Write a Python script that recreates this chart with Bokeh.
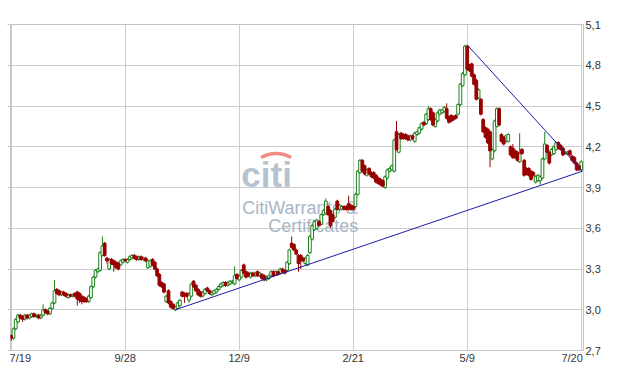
import numpy as np
from bokeh.plotting import figure
from bokeh.models import ColumnDataSource, Range1d, FixedTicker, CustomJSTickFormatter, LinearAxis
from bokeh.core.properties import value
from bokeh.embed import file_html
from bokeh.resources import INLINE

# ---- data (daily candles, 7/19 .. 7/20) ----
open_ = [
    2.81, 2.79, 2.86, 2.91, 2.96, 2.95, 2.93, 2.96, 2.94, 2.95,
    2.97, 2.95, 2.96, 2.94, 2.96, 3.00, 2.99, 2.97, 3.01, 3.05,
    3.15, 3.14, 3.11, 3.13, 3.12, 3.09, 3.11, 3.10, 3.12, 3.13,
    3.12, 3.10, 3.09, 3.08, 3.06, 3.09, 3.17, 3.24, 3.28, 3.29,
    3.40, 3.49, 3.38, 3.30, 3.37, 3.36, 3.35, 3.34, 3.33, 3.35,
    3.37, 3.35, 3.37, 3.38, 3.40, 3.39, 3.37, 3.39, 3.37, 3.38,
    3.31, 3.32, 3.37, 3.35, 3.30, 3.26, 3.20, 3.19, 3.06, 3.14,
    3.06, 3.04, 3.00, 3.01, 3.03, 3.13, 3.12, 3.12, 3.07, 3.10,
    3.21, 3.18, 3.15, 3.13, 3.10, 3.12, 3.16, 3.14, 3.11, 3.12,
    3.13, 3.15, 3.17, 3.18, 3.20, 3.18, 3.19, 3.20, 3.19, 3.26,
    3.22, 3.24, 3.33, 3.28, 3.27, 3.24, 3.27, 3.25, 3.28, 3.25,
    3.26, 3.25, 3.22, 3.23, 3.25, 3.28, 3.26, 3.28, 3.27, 3.30,
    3.29, 3.29, 3.34, 3.49, 3.48, 3.44, 3.40, 3.40, 3.38, 3.34,
    3.33, 3.42, 3.52, 3.59, 3.60, 3.65, 3.63, 3.70, 3.71, 3.76,
    3.73, 3.70, 3.68, 3.80, 3.74, 3.74, 3.76, 3.76, 3.78, 3.77,
    3.76, 3.76, 3.85, 4.01, 4.10, 4.06, 3.99, 4.04, 4.01, 4.01,
    3.99, 3.97, 3.96, 3.95, 3.90, 3.97, 4.02, 4.03, 4.02, 4.31,
    4.16, 4.30, 4.29, 4.29, 4.28, 4.25, 4.28, 4.24, 4.29, 4.30,
    4.33, 4.38, 4.37, 4.40, 4.48, 4.45, 4.35, 4.39, 4.44, 4.45,
    4.46, 4.48, 4.42, 4.43, 4.42, 4.43, 4.44, 4.51, 4.65, 4.73,
    4.94, 4.80, 4.81, 4.73, 4.69, 4.56, 4.55, 4.40, 4.34, 4.33,
    4.31, 4.11, 4.17, 4.35, 4.48, 4.29, 4.27, 4.24, 4.24, 4.20,
    4.19, 4.17, 4.16, 4.09, 4.18, 4.10, 4.04, 4.04, 4.02, 4.01,
    3.94, 3.95, 3.95, 3.97, 4.11, 4.21, 4.16, 4.14, 4.15, 4.18,
    4.23, 4.21, 4.19, 4.15, 4.15, 4.17, 4.13, 4.12, 4.08, 4.06,
    4.03,
]
high = [
    2.82, 2.87, 2.94, 2.97, 2.97, 2.96, 2.97, 2.97, 2.97, 2.98,
    2.98, 2.97, 2.97, 2.97, 3.04, 3.01, 3.00, 3.02, 3.06, 3.22,
    3.16, 3.15, 3.14, 3.14, 3.13, 3.12, 3.12, 3.12, 3.13, 3.14,
    3.13, 3.11, 3.10, 3.09, 3.11, 3.18, 3.25, 3.30, 3.31, 3.43,
    3.54, 3.50, 3.39, 3.38, 3.38, 3.37, 3.36, 3.35, 3.37, 3.38,
    3.38, 3.38, 3.40, 3.41, 3.41, 3.40, 3.40, 3.40, 3.39, 3.39,
    3.37, 3.37, 3.38, 3.36, 3.31, 3.27, 3.21, 3.20, 3.11, 3.15,
    3.07, 3.05, 3.03, 3.06, 3.08, 3.14, 3.13, 3.13, 3.13, 3.20,
    3.22, 3.19, 3.16, 3.14, 3.14, 3.16, 3.17, 3.15, 3.14, 3.15,
    3.16, 3.18, 3.20, 3.21, 3.21, 3.21, 3.22, 3.22, 3.32, 3.27,
    3.26, 3.30, 3.34, 3.29, 3.28, 3.28, 3.28, 3.28, 3.29, 3.28,
    3.27, 3.26, 3.25, 3.26, 3.29, 3.29, 3.29, 3.29, 3.31, 3.31,
    3.30, 3.36, 3.45, 3.54, 3.49, 3.45, 3.41, 3.41, 3.39, 3.39,
    3.41, 3.55, 3.63, 3.66, 3.67, 3.66, 3.71, 3.74, 3.82, 3.77,
    3.74, 3.71, 3.75, 3.81, 3.78, 3.77, 3.77, 3.77, 3.84, 3.78,
    3.77, 3.86, 4.03, 4.11, 4.11, 4.07, 4.04, 4.05, 4.02, 4.02,
    4.00, 3.98, 3.97, 3.96, 3.99, 4.04, 4.05, 4.07, 4.26, 4.39,
    4.30, 4.31, 4.30, 4.30, 4.29, 4.29, 4.29, 4.31, 4.32, 4.35,
    4.38, 4.39, 4.45, 4.50, 4.49, 4.46, 4.41, 4.46, 4.48, 4.48,
    4.50, 4.52, 4.43, 4.44, 4.43, 4.44, 4.52, 4.67, 4.75, 4.95,
    4.95, 4.81, 4.82, 4.74, 4.70, 4.63, 4.56, 4.41, 4.35, 4.34,
    4.32, 4.19, 4.40, 4.49, 4.49, 4.30, 4.28, 4.29, 4.30, 4.21,
    4.22, 4.18, 4.17, 4.30, 4.19, 4.11, 4.05, 4.05, 4.03, 4.02,
    3.99, 4.00, 3.99, 4.12, 4.31, 4.22, 4.17, 4.19, 4.21, 4.24,
    4.24, 4.22, 4.20, 4.17, 4.17, 4.18, 4.14, 4.13, 4.09, 4.07,
    4.10,
]
low = [
    2.77, 2.78, 2.85, 2.90, 2.93, 2.91, 2.92, 2.93, 2.93, 2.94,
    2.94, 2.94, 2.93, 2.93, 2.95, 2.97, 2.96, 2.96, 3.00, 3.04,
    3.11, 3.10, 3.10, 3.10, 3.09, 3.08, 3.09, 3.09, 3.09, 3.03,
    3.05, 3.04, 3.05, 3.05, 3.05, 3.08, 3.16, 3.23, 3.27, 3.28,
    3.39, 3.39, 3.34, 3.29, 3.33, 3.28, 3.30, 3.29, 3.32, 3.34,
    3.35, 3.34, 3.36, 3.37, 3.37, 3.36, 3.36, 3.36, 3.36, 3.35,
    3.30, 3.31, 3.32, 3.29, 3.24, 3.17, 3.16, 3.12, 3.05, 3.04,
    3.01, 3.00, 2.99, 3.00, 3.02, 3.09, 3.05, 3.09, 3.05, 3.09,
    3.16, 3.13, 3.10, 3.09, 3.09, 3.11, 3.13, 3.11, 3.10, 3.11,
    3.12, 3.14, 3.16, 3.17, 3.17, 3.17, 3.18, 3.19, 3.18, 3.22,
    3.21, 3.23, 3.26, 3.23, 3.24, 3.23, 3.24, 3.24, 3.24, 3.24,
    3.22, 3.21, 3.21, 3.22, 3.24, 3.24, 3.25, 3.25, 3.26, 3.27,
    3.26, 3.28, 3.33, 3.45, 3.43, 3.40, 3.28, 3.30, 3.35, 3.33,
    3.32, 3.41, 3.51, 3.58, 3.59, 3.61, 3.62, 3.69, 3.70, 3.69,
    3.60, 3.64, 3.67, 3.73, 3.73, 3.73, 3.73, 3.73, 3.73, 3.73,
    3.73, 3.75, 3.84, 4.00, 4.01, 3.99, 3.98, 3.99, 3.97, 3.96,
    3.93, 3.92, 3.91, 3.90, 3.89, 3.96, 4.01, 4.02, 4.01, 4.17,
    4.15, 4.25, 4.25, 4.25, 4.24, 4.24, 4.25, 4.23, 4.28, 4.29,
    4.32, 4.35, 4.36, 4.39, 4.39, 4.35, 4.34, 4.38, 4.43, 4.44,
    4.45, 4.40, 4.37, 4.38, 4.39, 4.40, 4.43, 4.50, 4.64, 4.72,
    4.76, 4.75, 4.71, 4.65, 4.54, 4.55, 4.43, 4.30, 4.26, 4.22,
    4.05, 4.10, 4.16, 4.34, 4.35, 4.23, 4.21, 4.23, 4.23, 4.13,
    4.11, 4.11, 4.09, 4.08, 4.14, 3.98, 3.99, 3.98, 3.95, 3.98,
    3.93, 3.94, 3.92, 3.96, 4.10, 4.15, 4.07, 4.13, 4.14, 4.17,
    4.18, 4.17, 4.13, 4.14, 4.14, 4.13, 4.09, 4.07, 4.02, 4.02,
    4.02,
]
close = [
    2.79, 2.86, 2.93, 2.96, 2.94, 2.93, 2.96, 2.94, 2.96, 2.97,
    2.95, 2.96, 2.94, 2.96, 3.00, 2.98, 2.97, 3.01, 3.05, 3.14,
    3.12, 3.11, 3.13, 3.11, 3.10, 3.11, 3.10, 3.11, 3.10, 3.08,
    3.07, 3.06, 3.06, 3.06, 3.10, 3.17, 3.24, 3.29, 3.30, 3.42,
    3.47, 3.40, 3.36, 3.37, 3.34, 3.33, 3.31, 3.30, 3.36, 3.37,
    3.36, 3.37, 3.39, 3.40, 3.38, 3.37, 3.39, 3.37, 3.38, 3.36,
    3.36, 3.36, 3.33, 3.30, 3.25, 3.18, 3.17, 3.13, 3.10, 3.05,
    3.02, 3.01, 3.02, 3.05, 3.07, 3.10, 3.10, 3.10, 3.12, 3.19,
    3.17, 3.14, 3.11, 3.10, 3.13, 3.15, 3.14, 3.12, 3.13, 3.14,
    3.15, 3.17, 3.19, 3.20, 3.18, 3.20, 3.21, 3.21, 3.25, 3.23,
    3.25, 3.29, 3.27, 3.24, 3.25, 3.27, 3.25, 3.27, 3.25, 3.27,
    3.23, 3.22, 3.24, 3.25, 3.28, 3.25, 3.28, 3.26, 3.30, 3.28,
    3.27, 3.35, 3.44, 3.46, 3.44, 3.41, 3.34, 3.36, 3.36, 3.38,
    3.40, 3.54, 3.62, 3.65, 3.66, 3.62, 3.70, 3.73, 3.80, 3.70,
    3.62, 3.65, 3.74, 3.74, 3.77, 3.76, 3.74, 3.74, 3.74, 3.74,
    3.74, 3.85, 4.02, 4.10, 4.02, 4.00, 4.03, 4.00, 3.98, 3.97,
    3.94, 3.93, 3.92, 3.91, 3.98, 4.03, 4.04, 4.06, 4.25, 4.18,
    4.29, 4.26, 4.26, 4.26, 4.25, 4.28, 4.26, 4.30, 4.31, 4.34,
    4.37, 4.36, 4.44, 4.48, 4.40, 4.36, 4.40, 4.45, 4.47, 4.47,
    4.49, 4.41, 4.38, 4.39, 4.40, 4.41, 4.51, 4.66, 4.74, 4.94,
    4.77, 4.76, 4.72, 4.66, 4.55, 4.62, 4.44, 4.31, 4.27, 4.23,
    4.17, 4.18, 4.39, 4.48, 4.36, 4.24, 4.22, 4.28, 4.29, 4.14,
    4.12, 4.12, 4.10, 4.15, 4.15, 3.99, 4.00, 3.99, 3.96, 3.99,
    3.98, 3.99, 3.98, 4.11, 4.22, 4.16, 4.08, 4.18, 4.20, 4.23,
    4.19, 4.18, 4.14, 4.16, 4.16, 4.14, 4.10, 4.08, 4.03, 4.03,
    4.09,
]

tick_labels = ["7/19", "9/28", "12/9", "2/21", "5/9", "7/20"]
tick_days = [0, 50, 100, 150, 200, 250]
y_ticks = [2.7, 3.0, 3.3, 3.6, 3.9, 4.2, 4.5, 4.8, 5.1]

# trend lines (day index, price)
support_x = [72, 250.5]
support_y = [3.00, 4.02]
resist_x = [200, 250.5]
resist_y = [4.95, 4.02]

GREEN = "#1c821c"
RED = "#990000"

o = np.array(open_)
h = np.array(high)
l = np.array(low)
c = np.array(close)
idx = np.arange(len(c))
inc = c >= o
dec = ~inc

src_inc = ColumnDataSource(dict(x=idx[inc], o=o[inc], c=c[inc], h=h[inc], l=l[inc]))
src_dec = ColumnDataSource(dict(x=idx[dec], o=o[dec], c=c[dec], h=h[dec], l=l[dec]))

W, H = 603, 366
B_L, B_T, B_R, B_B = 10, 24, 17, 14
X0, X1 = -0.3, 251.0
Y0, Y1 = 2.7, 5.1

p = figure(width=W, height=H,
           x_range=Range1d(X0, X1), y_range=Range1d(Y0, Y1),
           output_backend="svg", toolbar_location=None,
           y_axis_location="right",
           min_border_left=B_L, min_border_top=B_T,
           min_border_bottom=B_B, min_border_right=B_R)
p.background_fill_color = "white"
p.border_fill_color = "white"
p.outline_line_color = "#c4c4c4"

# watermark (behind candles) -- placed by pixel inside the frame
FW = W - B_L - B_R
FH = H - B_T - B_B

def wx(px):
    return X0 + (px - B_L) * (X1 - X0) / FW

def wy(py):
    return Y1 - (py - B_T) * (Y1 - Y0) / FH

p.text(x=[wx(242)], y=[wy(175)], text=["citi"],
       text_font=value("Liberation Sans"), text_font_style="bold",
       text_font_size="35px", text_color="#b7c2cf",
       text_baseline="alphabetic", text_align="left")
p.arc(x=[wx(277)], y=[wy(184)], radius=30, radius_units="screen",
      start_angle=np.radians(60), end_angle=np.radians(120),
      line_color="#ee8d84", line_width=3.5)
p.text(x=[wx(243), wx(269)], y=[wy(209), wy(227)],
       text=["CitiWarrants &", "Certificates"],
       text_font=value("Liberation Sans"), text_font_size="18px",
       text_color="#aab6c6", text_baseline="alphabetic", text_align="left")

# wicks
p.segment(x0="x", y0="h", x1="x", y1="l", source=src_inc, line_color=GREEN, line_width=1)
p.segment(x0="x", y0="h", x1="x", y1="l", source=src_dec, line_color=RED, line_width=1)
# bodies
p.vbar(x="x", width=1.2, top="c", bottom="o", source=src_inc,
       fill_color="white", line_color=GREEN, line_width=1)
p.vbar(x="x", width=1.2, top="o", bottom="c", source=src_dec,
       fill_color=RED, line_color=RED, line_width=1)

# trend lines
p.line(support_x, support_y, line_color="#1c1ca8", line_width=1)
p.line(resist_x, resist_y, line_color="#1c1ca8", line_width=1)

# axes
label_pos = list(tick_days)
label_pos[0] = tick_days[0] + 4
label_pos[-1] = tick_days[-1] - 4
p.xaxis.ticker = FixedTicker(ticks=label_pos)
p.xaxis.major_label_overrides = {pos: lab for pos, lab in zip(label_pos, tick_labels)}
p.xgrid.ticker = FixedTicker(ticks=tick_days)
p.yaxis.ticker = FixedTicker(ticks=y_ticks)
p.yaxis.formatter = CustomJSTickFormatter(code="return tick.toFixed(1).replace('.', ',');")

for ax in (p.xaxis[0], p.yaxis[0]):
    ax.axis_line_color = None
    ax.major_tick_line_color = None
    ax.minor_tick_line_color = None
    ax.major_tick_out = 0
    ax.major_tick_in = 0
    ax.major_label_text_font = "Liberation Sans"
    ax.major_label_text_font_size = "11px"
    ax.major_label_text_color = "#333333"
p.xaxis.major_label_standoff = 1
p.yaxis.major_label_standoff = 2

# small tick marks on the left edge
left_ax = LinearAxis(ticker=FixedTicker(ticks=y_ticks),
                     formatter=CustomJSTickFormatter(code="return '';"),
                     axis_line_color=None, minor_tick_line_color=None,
                     major_tick_out=3, major_tick_in=0,
                     major_tick_line_color="#c4c4c4", major_label_standoff=0)
p.add_layout(left_ax, "left")

p.xgrid.grid_line_color = "#cdcdcd"
p.ygrid.grid_line_color = "#cdcdcd"

open("out.html", "w").write(file_html(p, INLINE))
